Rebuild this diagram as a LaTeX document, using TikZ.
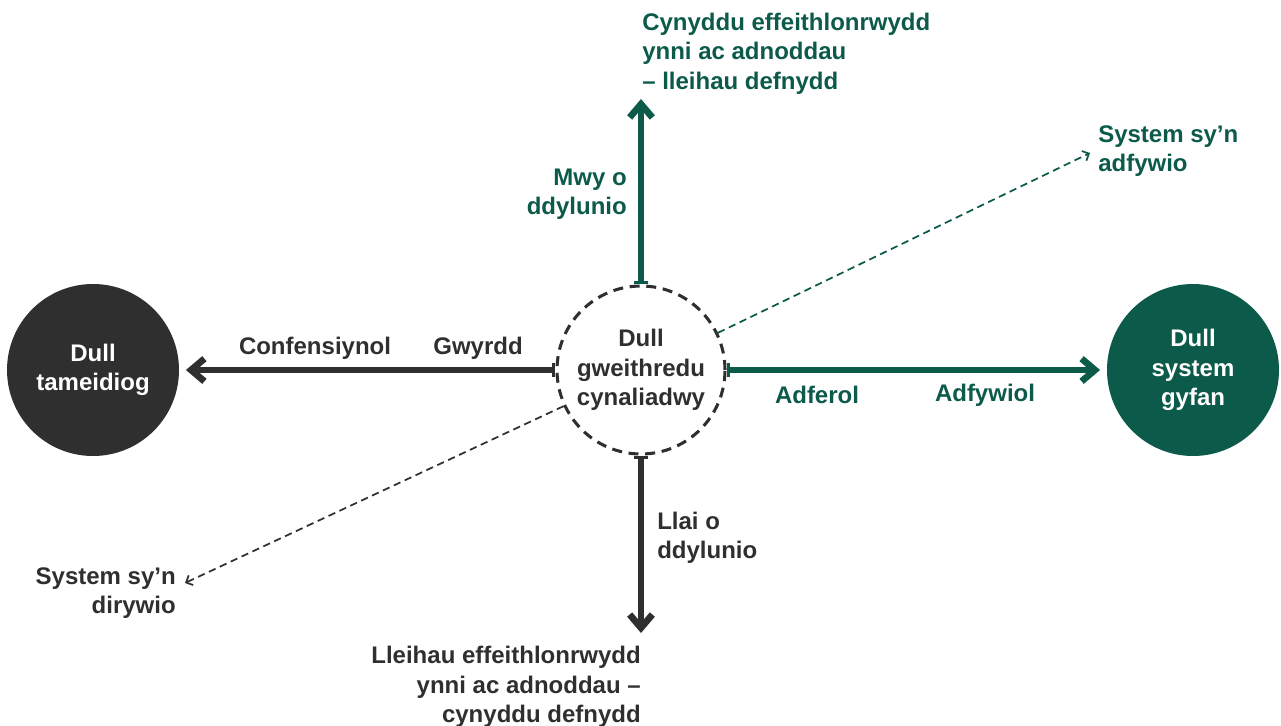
\documentclass[tikz,border=0pt]{standalone}
\usepackage{fontspec}
\setmainfont{Liberation Sans}
\usetikzlibrary{arrows.meta}
\definecolor{darkgrey}{HTML}{2F2F2F}
\definecolor{cygreen}{HTML}{0C5A4A}
\begin{document}
\begin{tikzpicture}[x=0.75pt, y=-0.75pt, font=\bfseries\fontsize{18}{22}\selectfont, line join=miter,
	pole/.style={circle, minimum size=129pt, inner sep=0pt, align=center, text=white},
	hub/.style={circle, minimum size=126pt, inner sep=0pt, align=center, draw=darkgrey, text=darkgrey, line width=2.3pt, dash pattern=on 7.5pt off 5pt},
	lbl/.style={inner sep=0pt},
	mainarr/.style={line width=5pt, {Bar[width=11pt,line width=2.5pt]}-{Straight Barb[length=10pt,width=17pt]}},
	dasharr/.style={line width=1.3pt, dash pattern=on 5.5pt off 3.5pt, -{Straight Barb[length=4pt,width=8pt]}}]
	\useasboundingbox (0,0) rectangle (1281,725);
	% circles
	\node[hub] (hub) at (641,370) {Dull\\gweithredu\\cynaliadwy};
	\node[pole, fill=darkgrey] (lft) at (93,370) {Dull\\tameidiog};
	\node[pole, fill=cygreen] (rgt) at (1193,370) {Dull\\system\\gyfan};
	\coordinate (upend) at (641,99);
	\coordinate (downend) at (641,633);
	\coordinate (regen) at (1090,153);
	\coordinate (degen) at (185,583);
	% arrows
	\draw[mainarr, darkgrey, shorten >=5pt] (hub) -- (lft);
	\draw[mainarr, cygreen, shorten >=5pt] (hub) -- (rgt);
	\draw[mainarr, cygreen] (hub) -- (upend);
	\draw[mainarr, darkgrey] (hub) -- (downend);
	\draw[dasharr, cygreen] (hub) -- (regen);
	\draw[dasharr, darkgrey] (hub) -- (degen);
	% labels
	\node[lbl, text=darkgrey] (conv) at (315,348) {Confensiynol};
	\node[lbl, text=darkgrey] (green) at (478,348) {Gwyrdd};
	\node[lbl, text=cygreen] (restor) at (817,395) {Adferol};
	\node[lbl, text=cygreen] (regenl) at (985,395) {Adfywiol};
	\node[lbl, text=cygreen, anchor=east, align=right] (moredes) at (627,194) {Mwy o\\ddylunio};
	\node[lbl, text=darkgrey, anchor=west, align=left] (lessdes) at (657,538) {Llai o\\ddylunio};
	\node[lbl, text=cygreen, anchor=north west, align=left] (toptxt) at (642,13) {Cynyddu effeithlonrwydd\\ynni ac adnoddau\\-- lleihau defnydd};
	\node[lbl, text=darkgrey, anchor=north east, align=right] (bottxt) at (641,646) {Lleihau effeithlonrwydd\\ynni ac adnoddau --\\cynyddu defnydd};
	\node[lbl, text=cygreen, anchor=west, align=left] (regentxt) at (1098,151) {System sy’n\\adfywio};
	\node[lbl, text=darkgrey, anchor=east, align=right] (degentxt) at (176,593) {System sy’n\\dirywio};
\end{tikzpicture}
\end{document}
